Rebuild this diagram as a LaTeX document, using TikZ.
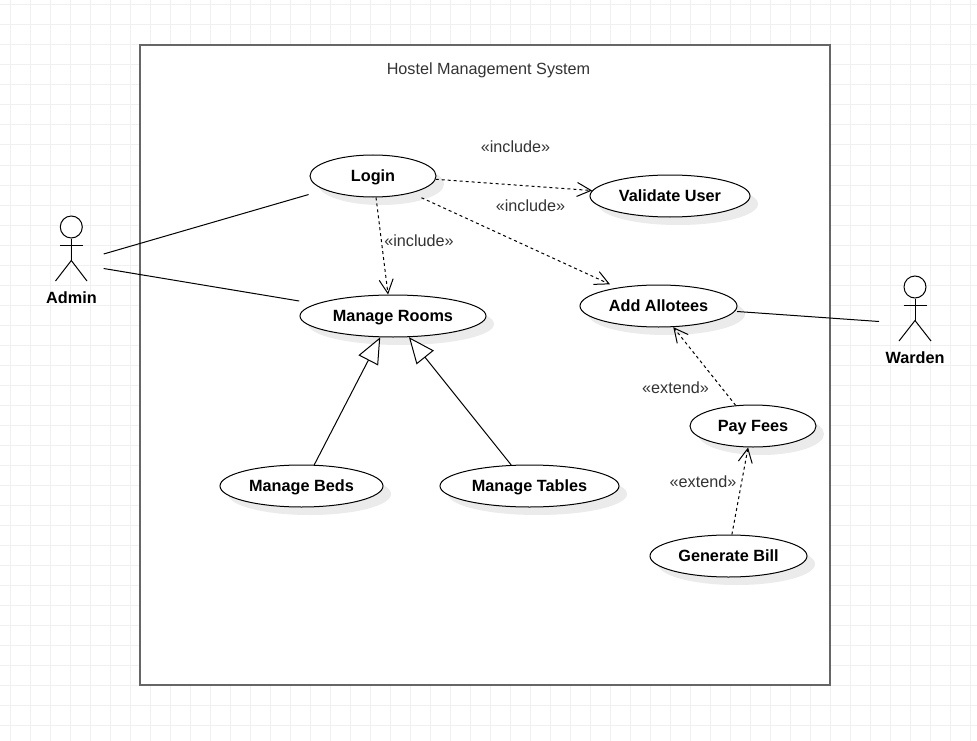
\documentclass[tikz,border=0pt]{standalone}
\usepackage{fontspec}
\setmainfont{Liberation Sans}
\usetikzlibrary{shapes.geometric, arrows.meta, shadows}
\definecolor{gridline}{HTML}{F0F0F0}
\definecolor{frame}{HTML}{666666}
\definecolor{ink}{HTML}{333333}
\tikzset{
  usecase/.style={ellipse, draw=black, fill=white, line width=1pt, inner sep=0pt, minimum height=42pt, text height=12pt, text depth=0.5pt, font=\fontsize{16.25}{18}\selectfont\bfseries, drop shadow={shadow xshift=8pt, shadow yshift=-8pt, fill=black!8, opacity=1}},
  stereo/.style={text=ink, font=\fontsize{16.2}{18}\selectfont, inner sep=0pt, text height=12pt, text depth=0.5pt},
  head/.style={circle, draw=black, fill=white, line width=1pt, minimum size=22pt, inner sep=0pt},
  actorname/.style={font=\fontsize{16.25}{18}\selectfont\bfseries, inner sep=0pt, text height=12pt, text depth=0.5pt},
  limb/.style={draw=black, line width=1pt},
  assoc/.style={draw=black, line width=1pt},
  dep/.style={draw=black, line width=1pt, dashed, -{Straight Barb[length=14pt, width=14pt]}},
  gen/.style={draw=black, line width=1pt, -{Triangle[open, fill=white, length=26pt, width=22pt]}},
}
\begin{document}
\begin{tikzpicture}[x=1pt, y=-1pt]
  \useasboundingbox (0,0) rectangle (977,741);
  % grid
  \foreach \gx in {10,30,...,970} \draw[gridline, line width=1pt] (\gx,0) -- (\gx,741);
  \foreach \gy in {5,25,...,735} \draw[gridline, line width=1pt] (0,\gy) -- (977,\gy);
  % system
  \node[draw=frame, fill=white, line width=2pt, minimum width=690pt, minimum height=640pt, inner sep=0pt] (system) at (485,365) {};
  \node[stereo] (title) at (488.5,69) {Hostel Management System};
  % use cases
  \node[usecase, minimum width=126pt] (login) at (373,176) {Login};
  \node[usecase, minimum width=160pt] (validate) at (670,196) {Validate User};
  \node[usecase, minimum width=186pt] (rooms) at (393,316) {Manage Rooms};
  \node[usecase, minimum width=157pt] (allotees) at (658.5,306) {Add Allotees};
  \node[usecase, minimum width=126pt] (fees) at (753,426) {Pay Fees};
  \node[usecase, minimum width=157pt] (bill) at (728.5,556) {Generate Bill};
  \node[usecase, minimum width=163pt] (beds) at (301.5,486) {Manage Beds};
  \node[usecase, minimum width=179pt] (tables) at (529.5,486) {Manage Tables};
  % actors
  \node[head] (admin) at (71.3,227) {};
  \draw[limb] (admin.south) -- ++(0,22) coordinate (adminhip);
  \draw[limb] (60,245.7) -- (83,245.7);
  \draw[limb] (55.5,281) -- (adminhip) -- (87,281);
  \node[actorname] (adminname) at (71.5,298) {Admin};
  \node[head] (warden) at (915,287) {};
  \draw[limb] (warden.south) -- ++(0,22) coordinate (wardenhip);
  \draw[limb] (903.5,305.7) -- (927,305.7);
  \draw[limb] (899,341) -- (wardenhip) -- (931,341);
  \node[actorname] (wardenname) at (915,358) {Warden};
  \coordinate (adminup) at (103.7,254);
  \coordinate (admindown) at (103.7,268.5);
  \coordinate (wardenarm) at (879,321.5);
  % connectors
  \draw[assoc, shorten >=16.6pt] (adminup) -- (login.196);
  \draw[assoc, shorten >=17pt] (admindown) -- (rooms.171);
  \draw[assoc, shorten <=2pt] (allotees.356) -- (wardenarm);
  \draw[dep] (login.357) -- (validate.176);
  \draw[dep, shorten <=11pt, shorten >=8pt] (login.336) -- (allotees.156.6);
  \draw[dep] (login.278) -- (rooms.103);
  \draw[dep] (fees.130.6) -- (allotees.305);
  \draw[dep] (bill.81) -- (fees.257);
  \draw[gen] (beds.59) -- (rooms.239.4);
  \draw[gen] (tables.131) -- (rooms.307.7);
  % labels
  \node[stereo] (inc1) at (515.5,147) {«include»};
  \node[stereo] (inc2) at (530.5,206) {«include»};
  \node[stereo] (inc3) at (419,241) {«include»};
  \node[stereo] (ext1) at (675.5,388) {«extend»};
  \node[stereo] (ext2) at (703,482) {«extend»};
\end{tikzpicture}
\end{document}
